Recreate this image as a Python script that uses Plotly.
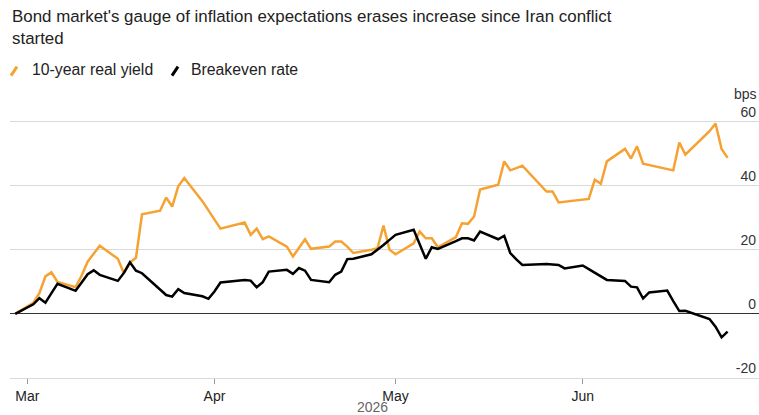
import plotly.graph_objects as go

# ---- data (bps change since conflict started) ----
real_dates = ["2026-02-27","2026-03-02","2026-03-03","2026-03-04","2026-03-05","2026-03-06",
              "2026-03-09","2026-03-10","2026-03-11","2026-03-12","2026-03-13",
              "2026-03-16","2026-03-17","2026-03-18","2026-03-19","2026-03-20",
              "2026-03-23","2026-03-24","2026-03-25","2026-03-26","2026-03-27",
              "2026-03-30","2026-03-31","2026-04-01","2026-04-02",
              "2026-04-06","2026-04-07","2026-04-08","2026-04-09","2026-04-10",
              "2026-04-13","2026-04-14","2026-04-15","2026-04-16","2026-04-17",
              "2026-04-20","2026-04-21","2026-04-22","2026-04-23","2026-04-24",
              "2026-04-27","2026-04-28","2026-04-29","2026-04-30","2026-05-01",
              "2026-05-04","2026-05-05","2026-05-06","2026-05-07","2026-05-08",
              "2026-05-11","2026-05-12","2026-05-13","2026-05-14","2026-05-15",
              "2026-05-18","2026-05-19","2026-05-20","2026-05-21","2026-05-22",
              "2026-05-26","2026-05-27","2026-05-28","2026-05-29",
              "2026-06-01","2026-06-02","2026-06-03","2026-06-04","2026-06-05",
              "2026-06-08","2026-06-09","2026-06-10","2026-06-11","2026-06-12",
              "2026-06-15","2026-06-16","2026-06-17","2026-06-18",
              "2026-06-22","2026-06-23","2026-06-24","2026-06-25"]
real_vals = [0, 3.5, 6.5, 11.7, 13, 10,
             8.3, 12, 16.3, 19, 21.3,
             17.2, 12.7, 16, 17.5, 31.1,
             32.2, 36.3, 33.5, 39.8, 42.4,
             35.2, 32.4, 29.7, 26.6,
             28.5, 24.7, 26.6, 23.3, 24.2,
             21, 17.9, 20.5, 23.3, 20.3,
             21, 22.6, 22.6, 21, 19,
             20, 20.5, 27.6, 20, 18.6,
             22, 25.7, 23.6, 23.6, 20.8,
             24, 28.3, 28.1, 30.4, 38.8,
             40.3, 47.6, 44.8, 45.5, 46.25,
             38.2, 38.2, 34.8, 35,
             35.5, 35.9, 41.9, 40.6, 47.6,
             51.5, 48.5, 52.3, 46.9, 46.5,
             45.3, 44.8, 53.5, 49.7,
             57, 59.4, 51.5, 48.7]

be_dates = ["2026-02-27","2026-03-02","2026-03-03","2026-03-04","2026-03-05","2026-03-06",
            "2026-03-09","2026-03-10","2026-03-11","2026-03-12","2026-03-13",
            "2026-03-16","2026-03-17","2026-03-18","2026-03-19","2026-03-20",
            "2026-03-23","2026-03-24","2026-03-25","2026-03-26","2026-03-27",
            "2026-03-30","2026-03-31","2026-04-01","2026-04-02",
            "2026-04-06","2026-04-07","2026-04-08","2026-04-09","2026-04-10",
            "2026-04-13","2026-04-14","2026-04-15","2026-04-16","2026-04-17",
            "2026-04-20","2026-04-21","2026-04-22","2026-04-23","2026-04-24",
            "2026-04-27","2026-04-28","2026-04-29","2026-04-30","2026-05-01",
            "2026-05-04","2026-05-05","2026-05-06","2026-05-07","2026-05-08",
            "2026-05-11","2026-05-12","2026-05-13","2026-05-14","2026-05-15",
            "2026-05-18","2026-05-19","2026-05-20","2026-05-21","2026-05-22",
            "2026-05-26","2026-05-27","2026-05-28","2026-05-29",
            "2026-06-01","2026-06-02","2026-06-03","2026-06-04","2026-06-05",
            "2026-06-08","2026-06-09","2026-06-10","2026-06-11","2026-06-12",
            "2026-06-15","2026-06-16","2026-06-17","2026-06-18",
            "2026-06-22","2026-06-23","2026-06-24","2026-06-25"]
be_vals = [0, 3, 4.9, 3.5, 6.5, 9.4,
           7.2, 9.8, 12.4, 13.6, 12.2,
           10.3, 12.8, 16.1, 13.5, 12.7,
           7.5, 5.9, 5.4, 7.7, 6.5,
           5.5, 4.7, 7, 9.8,
           10.6, 10.4, 8.3, 9.9, 13.2,
           13.75, 12.5, 14.3, 13.5, 10.6,
           9.9, 12.2, 13.2, 17.1, 17.2,
           18.6, 20, 21.5, 23.1, 24.7,
           26.25, 21.7, 17.2, 20.8, 20.3,
           22.7, 23.6, 23.6, 22.9, 25.7,
           23.3, 24.4, 19, 17, 15.3,
           15.6, 15.5, 15.3, 14.2,
           15.1, 14, 12.9, 11.8, 10.6,
           10.3, 8.5, 8.3, 4.8, 6.7,
           7.3, 4, 0.9, 1,
           -1.6, -4, -7.3, -5.5]

tick_dates = ["2026-03-01", "2026-04-01", "2026-05-01", "2026-06-01"]
tick_text = ["Mar", "Apr", "May", "Jun"]
y_ticks = [-20, 0, 20, 40, 60]
y_tick_text = ["-20", "0", "20", "40", "60"]

title_text = "Bond market's gauge of inflation expectations erases increase since Iran conflict<br>started"
series_names = ["10-year real yield", "Breakeven rate"]
ORANGE = "#F5A233"
BLACK = "#000000"
FONT = "Liberation Sans, Arial, sans-serif"

W, H = 759, 415
Y_MIN, Y_MAX = -20, 68
PX_PER_UNIT = 3.2
ML, MR, MB = 10, 0, 37
PH = (Y_MAX - Y_MIN) * PX_PER_UNIT
MT = H - MB - PH
PW = W - ML - MR

def px(x):
    return (x - ML) / PW

def py(y):
    return (H - MB - y) / PH

fig = go.Figure()
fig.add_trace(go.Scatter(x=real_dates, y=real_vals, mode="lines", name=series_names[0],
                         line=dict(color=ORANGE, width=2.5)))
fig.add_trace(go.Scatter(x=be_dates, y=be_vals, mode="lines", name=series_names[1],
                         line=dict(color=BLACK, width=2.5)))

fig.update_layout(
    width=W, height=H,
    margin=dict(l=ML, r=MR, t=MT, b=MB),
    paper_bgcolor="white", plot_bgcolor="white",
    showlegend=False,
    font=dict(family=FONT, color="#222"),
    xaxis=dict(type="date", range=["2026-02-26 03:13", "2026-06-30 04:48"],
               tickvals=tick_dates, ticktext=tick_text,
               ticks="outside", ticklen=5, tickcolor="#999", tickwidth=1,
               showgrid=False, zeroline=False,
               showline=True, linecolor="#d9d9d9", linewidth=1,
               tickfont=dict(size=14, color="#222")),
    yaxis=dict(side="right", range=[Y_MIN, Y_MAX], tickvals=y_ticks, ticktext=y_tick_text,
               showgrid=True, gridcolor="#d9d9d9", gridwidth=1,
               zeroline=True, zerolinecolor="#333", zerolinewidth=1,
               ticks="", ticklabelposition="inside top",
               tickfont=dict(size=14, color="#333")),
)

annotations = [
    dict(text=title_text, x=px(10), y=py(6), xref="paper", yref="paper",
         xanchor="left", yanchor="top", align="left", showarrow=False,
         font=dict(size=16.9, color="#222", family=FONT)),
    dict(text=series_names[0], x=px(30), y=py(70), xref="paper", yref="paper",
         xanchor="left", yanchor="middle", showarrow=False,
         font=dict(size=15.8, color="#222", family=FONT)),
    dict(text=series_names[1], x=px(189), y=py(70), xref="paper", yref="paper",
         xanchor="left", yanchor="middle", showarrow=False,
         font=dict(size=15.8, color="#222", family=FONT)),
    dict(text="bps", x=1, y=py(94), xref="paper", yref="paper",
         xanchor="right", yanchor="middle", showarrow=False,
         font=dict(size=14, color="#333", family=FONT)),
    dict(text="2026", x=px(372), y=py(407), xref="paper", yref="paper",
         xanchor="center", yanchor="middle", showarrow=False,
         font=dict(size=14, color="#666", family=FONT)),
]
fig.update_layout(annotations=annotations)

fig.add_shape(type="line", xref="paper", yref="paper",
              x0=px(11), y0=py(76), x1=px(17), y1=py(67),
              line=dict(color=ORANGE, width=3))
fig.add_shape(type="line", xref="paper", yref="paper",
              x0=px(172), y0=py(76), x1=px(178), y1=py(67),
              line=dict(color=BLACK, width=3))

fig.write_html("out.html")
